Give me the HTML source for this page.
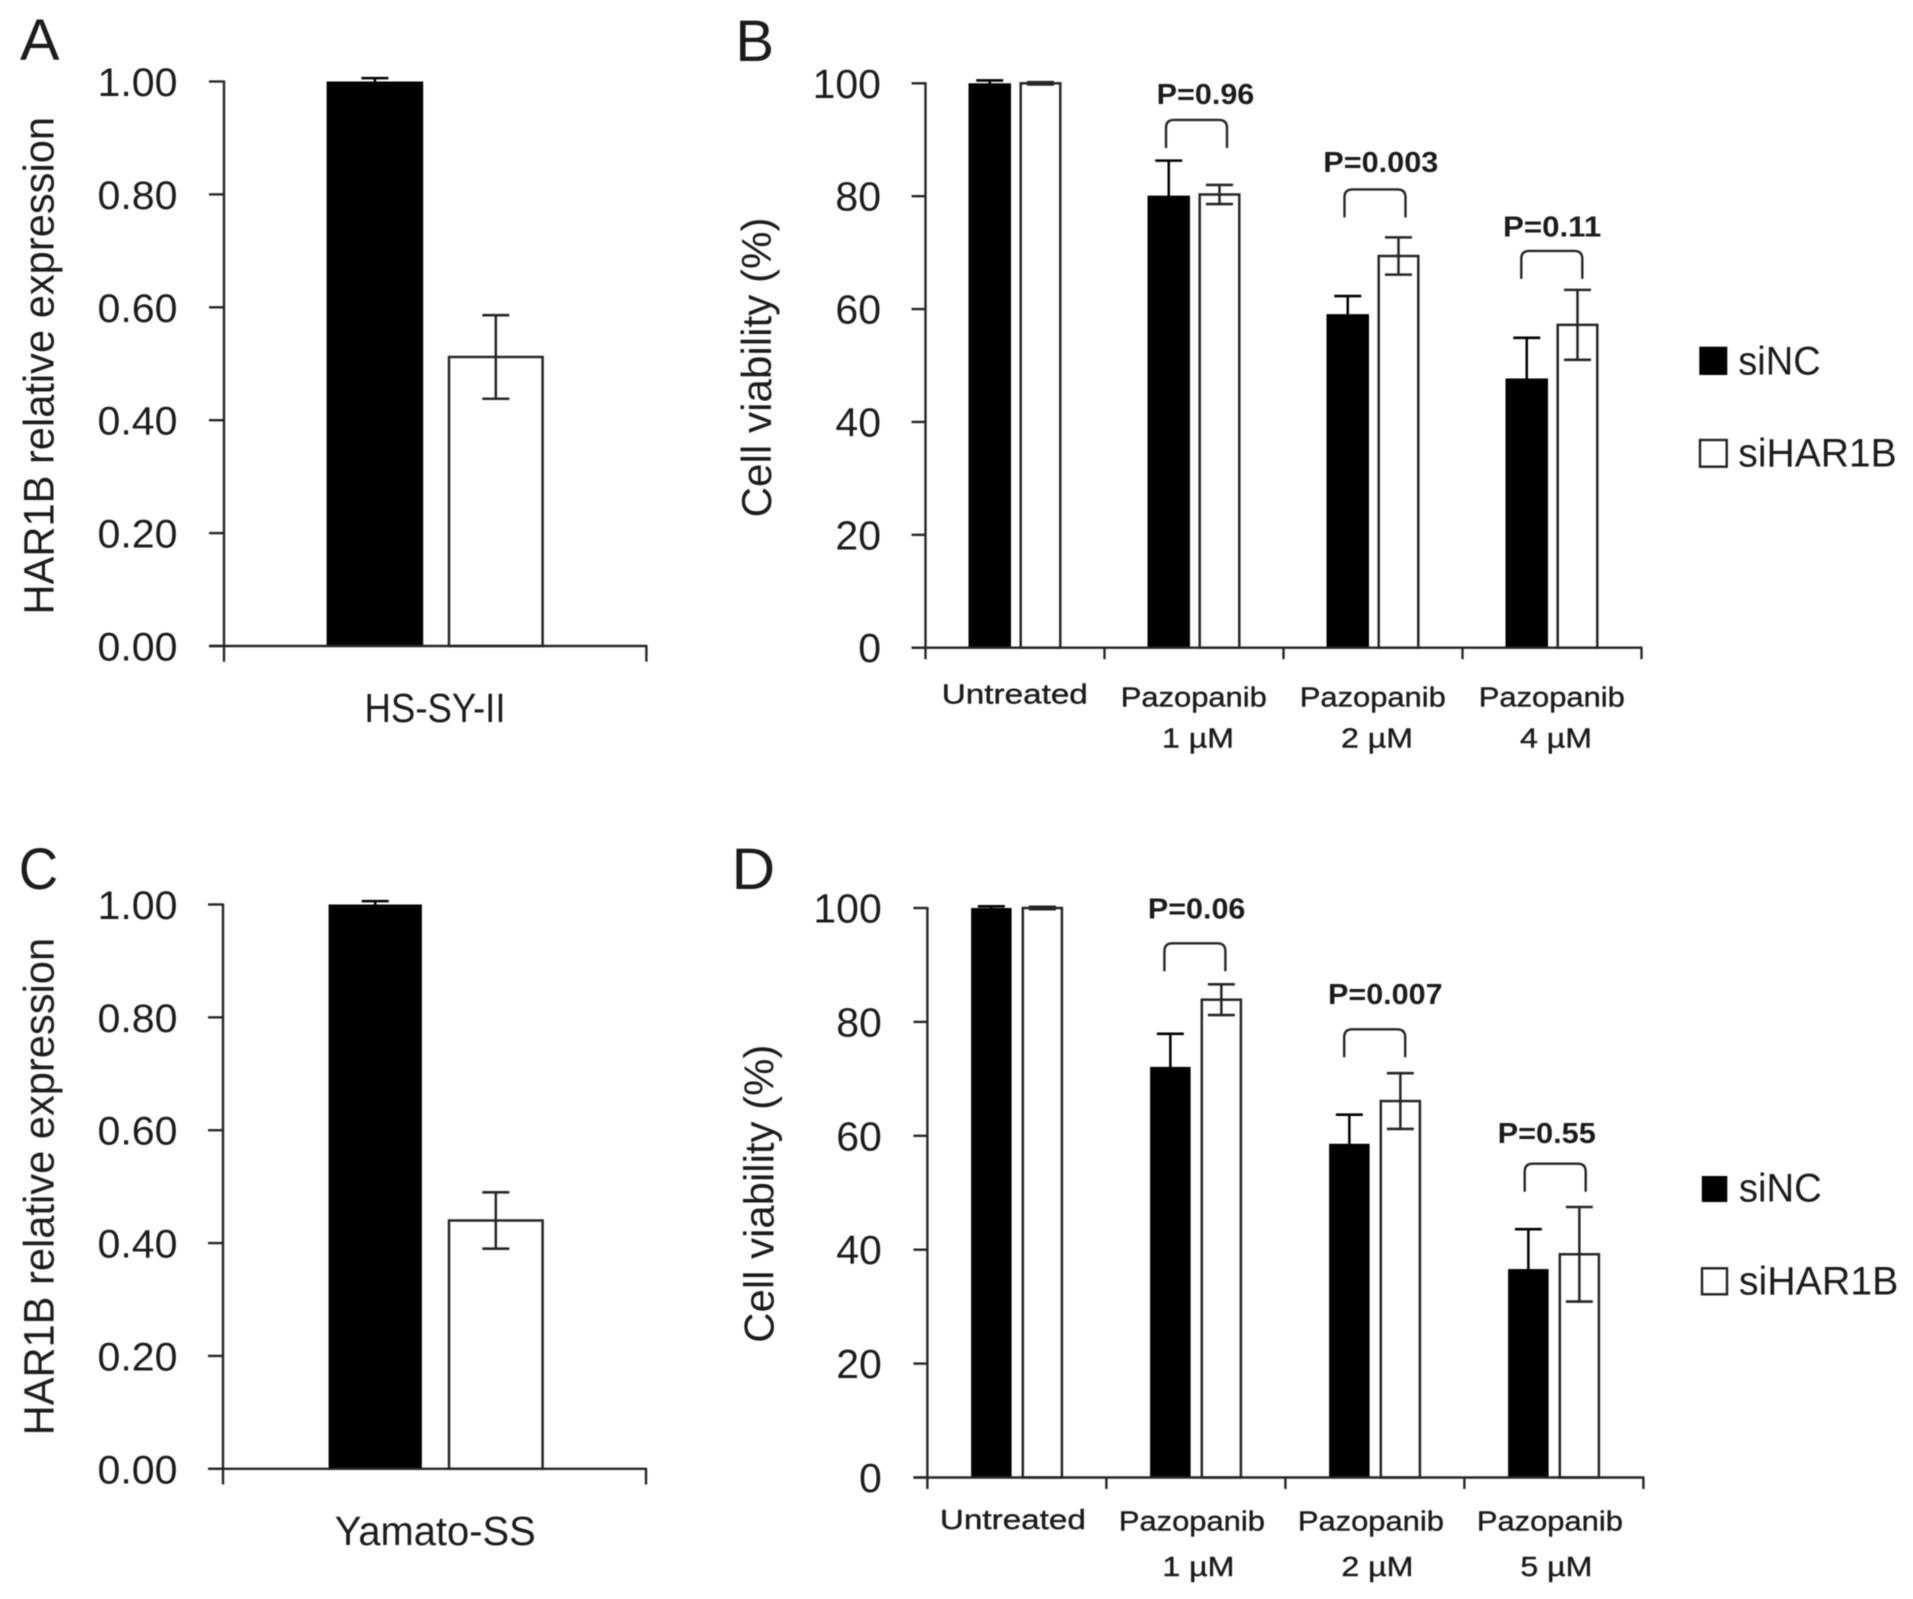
<!DOCTYPE html>
<html lang="en">
<head>
<meta charset="utf-8">
<title>HAR1B expression and cell viability</title>
<style>
  html, body { margin: 0; padding: 0; background: #fff; }
  svg { display: block; }
  text { font-family: "Liberation Sans", sans-serif; fill: #1c1c1c; }
  .blur { filter: blur(0.6px); }
</style>
</head>
<body>
<svg id="figure" xmlns="http://www.w3.org/2000/svg" width="1913" height="1599" viewBox="0 0 1913 1599">
  <rect x="0" y="0" width="1913" height="1599" fill="#fff"/>
  <g class="blur">
    <text x="20" y="60" font-size="58" textLength="39.5" lengthAdjust="spacingAndGlyphs">A</text>
    <text x="735.4" y="61" font-size="58" textLength="38.7" lengthAdjust="spacingAndGlyphs">B</text>
    <text x="18.7" y="889" font-size="58" textLength="39.4" lengthAdjust="spacingAndGlyphs">C</text>
    <text x="731.5" y="889" font-size="58" textLength="43.7" lengthAdjust="spacingAndGlyphs">D</text>

    <g id="panel-a"></g>
    <g id="panel-b"></g>
    <g id="panel-c"></g>
    <g id="panel-d"></g>

    <g>
      <g>
        <rect x="1699.3" y="346.7" width="28" height="28.3" fill="#000"/>
        <text x="1738.3" y="374.3" font-size="40" textLength="82.4" lengthAdjust="spacingAndGlyphs">siNC</text>
      </g>
      <g>
        <rect x="1700" y="440" width="26.7" height="26.7" fill="#fff" stroke="#222" stroke-width="2.4"/>
        <text x="1738.3" y="466.7" font-size="40" textLength="158.4" lengthAdjust="spacingAndGlyphs">siHAR1B</text>
      </g>
    </g>
    <g>
      <g>
        <rect x="1701.8" y="1176" width="25.5" height="26" fill="#000"/>
        <text x="1738.9" y="1201.6" font-size="40" textLength="82.8" lengthAdjust="spacingAndGlyphs">siNC</text>
      </g>
      <g>
        <rect x="1702" y="1268.3" width="25" height="26" fill="#fff" stroke="#222" stroke-width="2.4"/>
        <text x="1738.9" y="1294.5" font-size="40" textLength="159.4" lengthAdjust="spacingAndGlyphs">siHAR1B</text>
      </g>
    </g>
  </g>
</svg>

<script>
// ---------- Chart data ----------
const expressionTicks = ['0.00', '0.20', '0.40', '0.60', '0.80', '1.00'];
const viabilityTicks = ['0', '20', '40', '60', '80', '100'];

const aCategories = [['HS-SY-II']];
const aSiNC = [1.00];
const aSiNCErr = [0.006];
const aSiHAR1B = [0.512];
const aSiHAR1BErr = [0.074];

const cCategories = [['Yamato-SS']];
const cSiNC = [1.00];
const cSiNCErr = [0.006];
const cSiHAR1B = [0.44];
const cSiHAR1BErr = [0.05];

const bCategories = [['Untreated'], ['Pazopanib', '1 µM'], ['Pazopanib', '2 µM'], ['Pazopanib', '4 µM']];
const bSiNC = [100, 80.1, 59.1, 47.7];
const bSiNCErr = [0.5, 6.2, 3.2, 7.2];
const bSiHAR1B = [100, 80.3, 69.4, 57.2];
const bSiHAR1BErr = [0.2, 1.7, 3.3, 6.2];
const bPValues = ['', 'P=0.96', 'P=0.003', 'P=0.11'];
const bBracketLevels = [null, 93.5, 81.2, 70.3];

const dCategories = [['Untreated'], ['Pazopanib', '1 µM'], ['Pazopanib', '2 µM'], ['Pazopanib', '5 µM']];
const dSiNC = [100, 72.1, 58.6, 36.6];
const dSiNCErr = [0.3, 5.8, 5.1, 7.0];
const dSiHAR1B = [100, 83.9, 66.1, 39.2];
const dSiHAR1BErr = [0.2, 2.7, 4.9, 8.3];
const dPValues = ['', 'P=0.06', 'P=0.007', 'P=0.55'];
const dBracketLevels = [null, 93.8, 78.7, 55.1];

// ---------- Drawing helpers ----------
const NS = 'http://www.w3.org/2000/svg';
const INK = '#262626';

function make(parent, tag, props) {
  const el = document.createElementNS(NS, tag);
  for (const k in props) el.setAttribute(k, props[k]);
  parent.appendChild(el);
  return el;
}

function fitText(parent, str, x, y, size, width, anchor, weight) {
  const el = make(parent, 'text', { x: x, y: y, 'font-size': size, 'text-anchor': anchor });
  if (weight) el.setAttribute('font-weight', weight);
  if (width) {
    el.setAttribute('textLength', width);
    el.setAttribute('lengthAdjust', 'spacingAndGlyphs');
  }
  el.textContent = str;
  return el;
}

function drawPanel(root, L, categories, ticks, siNC, siNCErr, siHAR, siHARErr, pValues, levels) {
  const yScale = v => L.y0 - (v / L.yMax) * (L.y0 - L.yTop);
  const bandX = i => L.x0 + i * L.bandW;
  const blackX = i => bandX(i) + L.barOffset;
  const whiteX = i => blackX(i) + L.blackW + L.gap;

  // bars
  categories.forEach((c, i) => {
    const blackBar = make(root, 'rect', { x: blackX(i), y: yScale(siNC[i]), width: L.blackW, height: L.y0 - yScale(siNC[i]), fill: '#000' });
    
    
    const whiteBar = make(root, 'rect', { x: whiteX(i) + 1.2, y: yScale(siHAR[i]), width: L.whiteW - 2.4, height: L.y0 - yScale(siHAR[i]), fill: '#fff', stroke: INK, 'stroke-width': 2.5 });
    
    

    [[blackX(i) + L.blackW / 2, siNC[i], siNCErr[i], 'sinc', '#000'],
     [whiteX(i) + L.whiteW / 2, siHAR[i], siHARErr[i], 'sihar1b', INK]].forEach(e => {
      const top = yScale(e[1] + e[2]);
      const bot = yScale(e[1] - e[2]);
      const stem = make(root, 'line', { x1: e[0], x2: e[0], y1: top, y2: bot, stroke: e[4], 'stroke-width': 2.5 });
      
      
      const capTop = make(root, 'line', { x1: e[0] - L.cap / 2, x2: e[0] + L.cap / 2, y1: top, y2: top, stroke: e[4], 'stroke-width': 2.6 });
      
      
      const capBot = make(root, 'line', { x1: e[0] - L.cap / 2, x2: e[0] + L.cap / 2, y1: bot, y2: bot, stroke: e[4], 'stroke-width': 2.6 });
      
      
    });
  });

  // axes
  const xEnd = bandX(categories.length);
  const yAxis = make(root, 'line', { x1: L.x0, x2: L.x0, y1: L.yTop - 1, y2: L.y0 + L.xTickLen, stroke: INK, 'stroke-width': 2.4 });
  
  
  const xAxis = make(root, 'line', { x1: L.x0 - L.yTickLen, x2: xEnd + 1, y1: L.y0, y2: L.y0, stroke: INK, 'stroke-width': 2.4 });
  
  

  // x ticks
  for (let i = 1; i <= categories.length; i++) {
    const t = make(root, 'line', { x1: bandX(i), x2: bandX(i), y1: L.y0, y2: L.y0 + L.xTickLen, stroke: INK, 'stroke-width': 2.4 });
    
    
  }

  // y ticks and labels
  ticks.forEach(label => {
    const v = parseFloat(label);
    const t = make(root, 'line', { x1: L.x0 - L.yTickLen, x2: L.x0, y1: yScale(v), y2: yScale(v), stroke: INK, 'stroke-width': 2.4 });
    
    
    const w = L.tickCharW ? label.length * L.tickCharW : L.tickW;
    const tl = fitText(root, label, L.tickRight, yScale(v) + L.tickBase, L.tickSize, w, 'end');
    
    
  });

  // category labels
  categories.forEach((lines, i) => {
    lines.forEach((str, j) => {
      const isSecond = j === 1;
      const single = lines.length === 1;
      const dx = isSecond ? L.doseDx : L.nameDx;
      const base = isSecond ? L.doseBase : (single ? L.singleBase : L.nameBase);
      const width = isSecond ? L.doseW : L.nameW;
      const tl = fitText(root, str, bandX(i) + dx, L.y0 + base, L.catSize, width, 'middle');
      if (L.catStroke) {
        tl.setAttribute('stroke', '#1c1c1c');
        tl.setAttribute('stroke-width', L.catStroke);
      }
      
      
    });
  });

  // y title
  const title = make(root, 'text', {
    x: 0, y: 0, 'font-size': L.titleSize, 'text-anchor': 'middle',
    transform: 'translate(' + L.titleX + ' ' + L.titleY + ') rotate(-90)',
    textLength: L.titleW, lengthAdjust: 'spacingAndGlyphs'
  });
  title.textContent = L.title;
  
  

  // significance brackets
  if (pValues) {
    pValues.forEach((p, i) => {
      if (!p) return;
      const top = yScale(levels[i]);
      const a = L.pText[i];
      const left = bandX(i) + a.bx;
      const right = left + L.bracketW;
      const br = make(root, 'path', {
        d: 'M' + left + ' ' + (top + 28) + 'V' + (top + 8) + 'Q' + left + ' ' + top + ' ' + (left + 8) + ' ' + top +
           'H' + (right - 8) + 'Q' + right + ' ' + top + ' ' + right + ' ' + (top + 8) + 'V' + (top + 28),
        fill: 'none', stroke: INK, 'stroke-width': 2.4
      });
      
      
      const pl = fitText(root, p, a.x, top - a.up, 29, a.w, 'start', 'bold');
      
      
    });
  }
}

// ---------- Layouts (pixels only, no data) ----------
const expressionBase = {
  yMax: 1, yTickLen: 15, xTickLen: 15.7, cap: 27,
  tickRight: 177.5, tickBase: 14.5, tickSize: 40, tickW: 80,
  catSize: 41, singleBase: 76,
  title: 'HAR1B relative expression', titleSize: 43, titleX: 53.6, titleW: 497.5
};
const layoutA = Object.assign({}, expressionBase, {
  x0: 224, y0: 646, yTop: 81.5, bandW: 422.4, barOffset: 102.6, blackW: 96.6, gap: 24.6, whiteW: 96,
  nameDx: 211, nameW: 141, titleY: 365.7
});
const layoutC = Object.assign({}, expressionBase, {
  x0: 223, y0: 1468.8, yTop: 904.5, bandW: 423, barOffset: 105.6, blackW: 93.3, gap: 25.9, whiteW: 96,
  nameDx: 212.2, nameW: 201, titleY: 1186.6
});
const viabilityBase = {
  yMax: 100, yTickLen: 14, xTickLen: 11.5, cap: 27,
  tickRight: 881, tickBase: 14.5, tickSize: 41, tickCharW: 22.8,
  catSize: 28, catStroke: 0.4, nameW: 146, doseW: 72,
  title: 'Cell viability (%)', titleSize: 42, bracketW: 61
};
const layoutB = Object.assign({}, viabilityBase, {
  x0: 925.5, y0: 647.7, yTop: 83.3, bandW: 179, barOffset: 43, blackW: 42.5, gap: 8.5, whiteW: 42,
  nameDx: 89.3, doseDx: 93.5, nameBase: 58.8, singleBase: 55.6, doseBase: 100,
  titleX: 771.2, titleY: 367.4, titleW: 300,
  pText: [null,
    { x: 1156.7, up: 16, w: 97.6, bx: 61.5 },
    { x: 1323.3, up: 17.6, w: 115, bx: 61 },
    { x: 1503, up: 14.4, w: 98.2, bx: 58.8 }]
});
const layoutD = Object.assign({}, viabilityBase, {
  x0: 927.4, y0: 1477.5, yTop: 908, bandW: 179, barOffset: 43.7, blackW: 40.5, gap: 10, whiteW: 41.5,
  tickRight: 881.8,
  nameDx: 85.5, doseDx: 92, nameBase: 53, singleBase: 51.5, doseBase: 98.5,
  titleX: 773.5, titleY: 1193.7, titleW: 298,
  pText: [null,
    { x: 1147.9, up: 24.8, w: 97.5, bx: 58 },
    { x: 1328, up: 25.4, w: 114.6, bx: 58.8 },
    { x: 1497.6, up: 20.9, w: 98.2, bx: 60.3 }]
});

drawPanel(document.getElementById('panel-a'), layoutA, aCategories, expressionTicks, aSiNC, aSiNCErr, aSiHAR1B, aSiHAR1BErr);
drawPanel(document.getElementById('panel-c'), layoutC, cCategories, expressionTicks, cSiNC, cSiNCErr, cSiHAR1B, cSiHAR1BErr);
drawPanel(document.getElementById('panel-b'), layoutB, bCategories, viabilityTicks, bSiNC, bSiNCErr, bSiHAR1B, bSiHAR1BErr, bPValues, bBracketLevels);
drawPanel(document.getElementById('panel-d'), layoutD, dCategories, viabilityTicks, dSiNC, dSiNCErr, dSiHAR1B, dSiHAR1BErr, dPValues, dBracketLevels);
</script>
</body>
</html>
